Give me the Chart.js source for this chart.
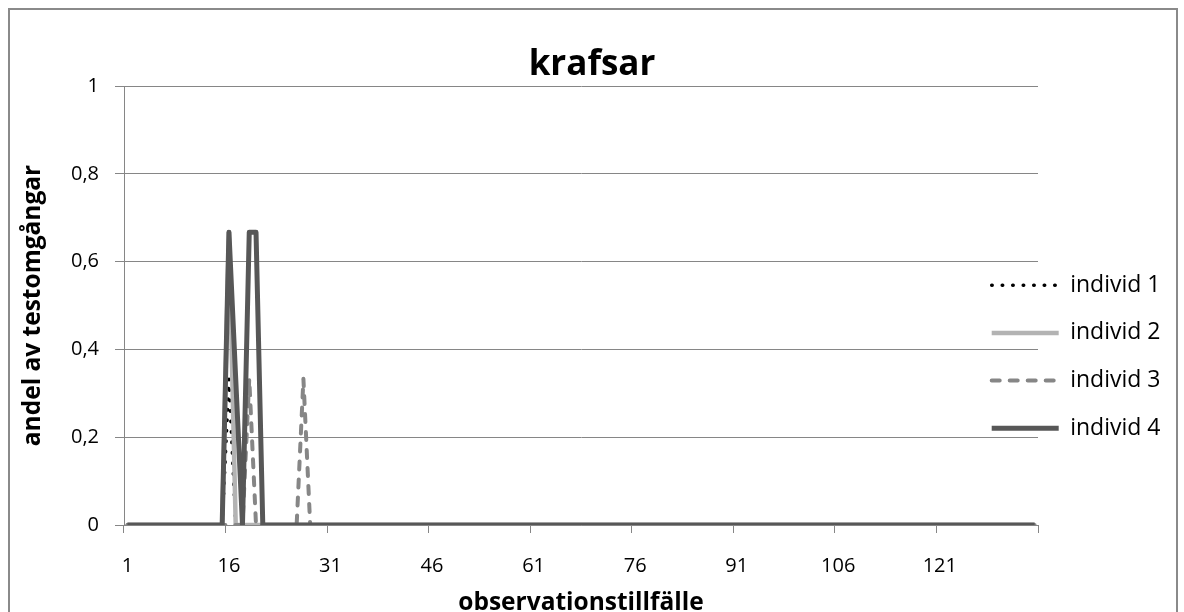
<!DOCTYPE html>
<html>
<head>
<meta charset="utf-8">
<title>krafsar</title>
<script src="https://cdn.jsdelivr.net/npm/chart.js"></script>
<style>
  html, body { margin: 0; padding: 0; background: #fff; overflow: hidden; }
  #frame { position: absolute; left: 8px; top: 8px; width: 1166px; height: 640px; border: 2px solid #8a8a8a; }
  #wrap { position: absolute; left: 0; top: 0; width: 1184px; height: 622px; }
</style>
</head>
<body>
<div id="frame"></div>
<div id="wrap"><canvas id="chart" width="1184" height="622"></canvas></div>
<script>
// observation occasions 1..135
const categories = Array.from({ length: 135 }, (_, i) => String(i + 1))
const xTickLabels = ['1', '16', '31', '46', '61', '76', '91', '106', '121']
const yTickLabels = ['0', '0,2', '0,4', '0,6', '0,8', '1']

const individ1 = [
  0, 0, 0, 0, 0, 0, 0, 0, 0, 0, 0, 0, 0, 0, 0,
  0.333, 0, 0, 0, 0, 0, 0, 0, 0, 0, 0, 0, 0, 0, 0,
  0, 0, 0, 0, 0, 0, 0, 0, 0, 0, 0, 0, 0, 0, 0,
  0, 0, 0, 0, 0, 0, 0, 0, 0, 0, 0, 0, 0, 0, 0,
  0, 0, 0, 0, 0, 0, 0, 0, 0, 0, 0, 0, 0, 0, 0,
  0, 0, 0, 0, 0, 0, 0, 0, 0, 0, 0, 0, 0, 0, 0,
  0, 0, 0, 0, 0, 0, 0, 0, 0, 0, 0, 0, 0, 0, 0,
  0, 0, 0, 0, 0, 0, 0, 0, 0, 0, 0, 0, 0, 0, 0,
  0, 0, 0, 0, 0, 0, 0, 0, 0, 0, 0, 0, 0, 0, 0
]
const individ2 = [
  0, 0, 0, 0, 0, 0, 0, 0, 0, 0, 0, 0, 0, 0, 0,
  0.667, 0, 0, 0, 0, 0, 0, 0, 0, 0, 0, 0, 0, 0, 0,
  0, 0, 0, 0, 0, 0, 0, 0, 0, 0, 0, 0, 0, 0, 0,
  0, 0, 0, 0, 0, 0, 0, 0, 0, 0, 0, 0, 0, 0, 0,
  0, 0, 0, 0, 0, 0, 0, 0, 0, 0, 0, 0, 0, 0, 0,
  0, 0, 0, 0, 0, 0, 0, 0, 0, 0, 0, 0, 0, 0, 0,
  0, 0, 0, 0, 0, 0, 0, 0, 0, 0, 0, 0, 0, 0, 0,
  0, 0, 0, 0, 0, 0, 0, 0, 0, 0, 0, 0, 0, 0, 0,
  0, 0, 0, 0, 0, 0, 0, 0, 0, 0, 0, 0, 0, 0, 0
]
const individ3 = [
  0, 0, 0, 0, 0, 0, 0, 0, 0, 0, 0, 0, 0, 0, 0,
  0, 0, 0, 0.333, 0, 0, 0, 0, 0, 0, 0, 0.333, 0, 0, 0,
  0, 0, 0, 0, 0, 0, 0, 0, 0, 0, 0, 0, 0, 0, 0,
  0, 0, 0, 0, 0, 0, 0, 0, 0, 0, 0, 0, 0, 0, 0,
  0, 0, 0, 0, 0, 0, 0, 0, 0, 0, 0, 0, 0, 0, 0,
  0, 0, 0, 0, 0, 0, 0, 0, 0, 0, 0, 0, 0, 0, 0,
  0, 0, 0, 0, 0, 0, 0, 0, 0, 0, 0, 0, 0, 0, 0,
  0, 0, 0, 0, 0, 0, 0, 0, 0, 0, 0, 0, 0, 0, 0,
  0, 0, 0, 0, 0, 0, 0, 0, 0, 0, 0, 0, 0, 0, 0
]
const individ4 = [
  0, 0, 0, 0, 0, 0, 0, 0, 0, 0, 0, 0, 0, 0, 0,
  0.667, 0.333, 0, 0.667, 0.667, 0, 0, 0, 0, 0, 0, 0, 0, 0, 0,
  0, 0, 0, 0, 0, 0, 0, 0, 0, 0, 0, 0, 0, 0, 0,
  0, 0, 0, 0, 0, 0, 0, 0, 0, 0, 0, 0, 0, 0, 0,
  0, 0, 0, 0, 0, 0, 0, 0, 0, 0, 0, 0, 0, 0, 0,
  0, 0, 0, 0, 0, 0, 0, 0, 0, 0, 0, 0, 0, 0, 0,
  0, 0, 0, 0, 0, 0, 0, 0, 0, 0, 0, 0, 0, 0, 0,
  0, 0, 0, 0, 0, 0, 0, 0, 0, 0, 0, 0, 0, 0, 0,
  0, 0, 0, 0, 0, 0, 0, 0, 0, 0, 0, 0, 0, 0, 0
]

const FONT = '"Open Sans", "DejaVu Sans", sans-serif'
const AXIS_GREY = '#868686'

// the excel legend sits partly over the plot, so move it after layout
const legendPlacement = {
  id: 'legendPlacement',
  afterLayout (chart) {
    const lg = chart.legend
    lg.left = 967
    lg.right = 1184
    lg.top = 249
    lg.bottom = 622
  }
}

const baseLabels = Chart.defaults.plugins.legend.labels.generateLabels

new Chart(document.getElementById('chart').getContext('2d'), {
  type: 'line',
  data: {
    labels: categories,
    datasets: [
      { label: 'individ 1', data: individ1, borderColor: '#000000', borderWidth: 3.5, borderDash: [0.5, 10], borderCapStyle: 'round', order: 4 },
      { label: 'individ 2', data: individ2, borderColor: '#b3b3b3', borderWidth: 4.5, order: 3 },
      { label: 'individ 3', data: individ3, borderColor: '#868686', borderWidth: 4, borderDash: [8, 10], borderCapStyle: 'round', order: 2 },
      { label: 'individ 4', data: individ4, borderColor: '#575757', borderWidth: 5, order: 1 }
    ]
  },
  options: {
    responsive: false,
    animation: false,
    devicePixelRatio: 1,
    layout: { padding: 0 },
    elements: {
      point: { radius: 0, hoverRadius: 0 },
      line: { tension: 0, fill: false, borderJoinStyle: 'round' }
    },
    scales: {
      x: {
        type: 'category',
        offset: true,
        grid: {
          offset: true,
          drawOnChartArea: false,
          drawTicks: true,
          tickLength: 8,
          color: (ctx) => (ctx.index === undefined || xTickLabels.includes(categories[ctx.index])) ? AXIS_GREY : 'rgba(0,0,0,0)'
        },
        border: { color: AXIS_GREY, width: 1 },
        ticks: {
          autoSkip: false,
          maxRotation: 0,
          minRotation: 0,
          padding: 21,
          color: '#000',
          font: { family: FONT, size: 20 },
          callback: (value, index) => xTickLabels.includes(categories[index]) ? categories[index] : ''
        },
        title: {
          display: true,
          text: 'observationstillfälle',
          color: '#000',
          font: { family: FONT, size: 24.5, weight: 'bold' },
          padding: { top: 0, bottom: 4 }
        },
        afterFit (scale) { scale.height = 97 }
      },
      y: {
        min: 0,
        max: 1,
        grid: { color: AXIS_GREY, lineWidth: 1, tickLength: 9 },
        border: { color: AXIS_GREY, width: 1 },
        ticks: {
          stepSize: 0.2,
          padding: 16,
          color: '#000',
          font: { family: FONT, size: 20 },
          callback: (value, index) => yTickLabels[index]
        },
        title: {
          display: true,
          text: 'andel av testomgångar',
          color: '#000',
          font: { family: FONT, size: 24.5, weight: 'bold' },
          padding: { top: 18, bottom: 0 }
        },
        afterFit (scale) { scale.width = 124 }
      }
    },
    plugins: {
      title: {
        display: true,
        text: 'krafsar',
        color: '#000',
        font: { family: FONT, size: 35, weight: 'bold' },
        padding: { top: 44, bottom: 0 }
      },
      legend: {
        position: 'right',
        align: 'start',
        maxWidth: 146,
        labels: {
          usePointStyle: true,
          pointStyle: 'line',
          pointStyleWidth: 67,
          padding: 24.7,
          color: '#000',
          font: { family: FONT, size: 23 },
          sort: (a, b) => a.datasetIndex - b.datasetIndex,
          generateLabels (chart) {
            const items = baseLabels(chart)
            items.forEach((item) => {
              const ds = chart.data.datasets[item.datasetIndex]
              item.strokeStyle = ds.borderColor
              item.lineWidth = ds.borderWidth
              item.lineDash = ds.borderDash || []
              item.lineCap = ds.borderCapStyle || 'butt'
            })
            return items
          }
        }
      },
      tooltip: { enabled: false }
    }
  },
  plugins: [legendPlacement]
})
</script>
</body>
</html>
